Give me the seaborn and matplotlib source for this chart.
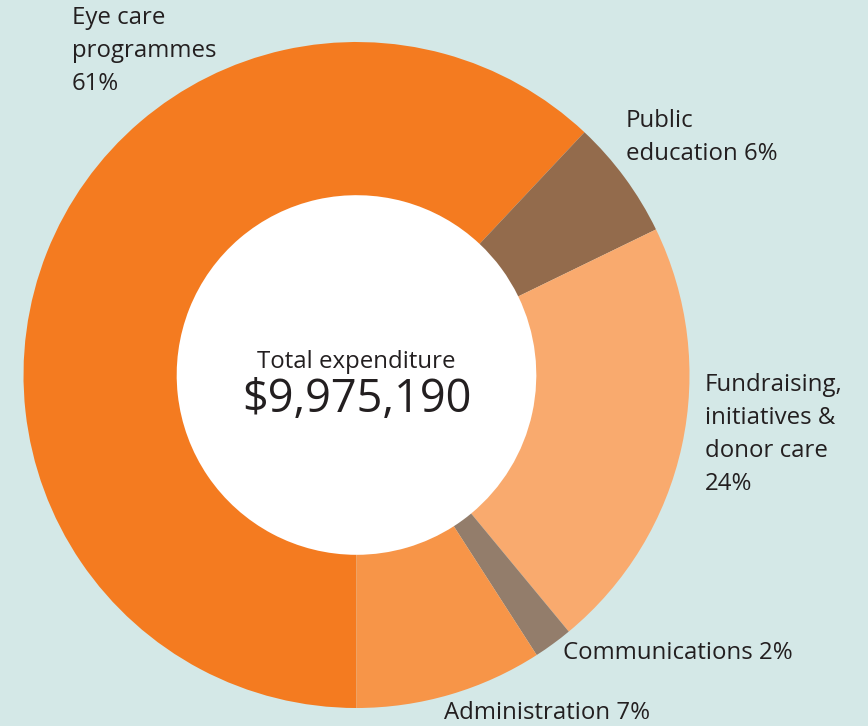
import matplotlib
matplotlib.use("Agg")
import matplotlib.pyplot as plt
from matplotlib.patches import Circle
import seaborn as sns

categories = ['Eye care programmes', 'Public education', 'Fundraising, initiatives & donor care',
              'Communications', 'Administration']
shares = [62.0, 5.8, 21.2, 1.9, 9.1]
labels = ['Eye care\nprogrammes\n61%', 'Public\neducation 6%', 'Fundraising,\ninitiatives &\ndonor care\n24%',
          'Communications 2%', 'Administration 7%']
colors = ['#F47B20', '#936B4C', '#F9AA6E', '#937D6B', '#F79548']
total_text = '$9,975,190'

sns.set_theme(style='white')
plt.rcParams['font.family'] = ['Open Sans', 'DejaVu Sans']

bg = '#D4E8E7'
ink = '#231F20'

fig = plt.figure(figsize=(8.68, 7.26), dpi=100)
fig.patch.set_facecolor(bg)
ax = fig.add_axes([0, 0, 1, 1])
ax.set_facecolor(bg)

# work in pixel-like units, y upwards
cx, cy, r = 356.5, 726 - 375, 333
ax.pie(shares, colors=colors, center=(cx, cy), radius=r, startangle=270,
       counterclock=False, wedgeprops=dict(width=r * 0.46, linewidth=0))
ax.add_patch(Circle((cx, cy), r * 0.54, color='white', zorder=0.5))
ax.set_xlim(0, 868)
ax.set_ylim(0, 726)
ax.set_aspect('equal')
ax.axis('off')

# label positions (left x, top y in image px)
spots = [(72, 6), (626, 109), (705, 373), (563, 641), (444, 701)]
for lab, (x, y) in zip(labels, spots):
    ax.text(x, 726 - y, lab, ha='left', va='top', fontsize=17.3, color=ink,
            linespacing=1.5)

ax.text(cx, 726 - 362, 'Total expenditure', ha='center', va='center',
        fontsize=17.3, color=ink)
ax.text(cx, 726 - 400, total_text, ha='center', va='center',
        fontsize=32.5, color=ink)

fig.savefig('out.png', dpi=100, facecolor=bg)
